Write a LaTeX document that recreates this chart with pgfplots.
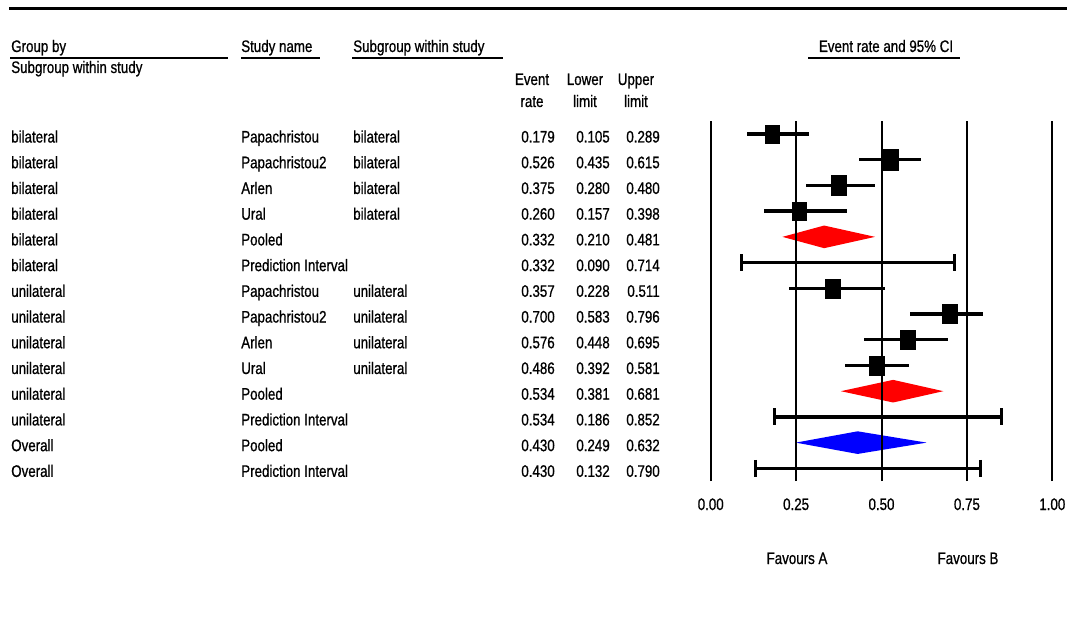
\documentclass[border=0pt]{standalone}
\usepackage{fontspec}
\setmainfont{Liberation Sans}[FakeStretch=0.8, FakeBold=0.8]
\usepackage{pgfplots}
\pgfplotsset{compat=1.18}
\usepackage{pgfplotstable}

% studies: y = 15 - row
\pgfplotstableread{
y  er    lo    hi    s
14 0.179 0.105 0.289 6.8
13 0.526 0.435 0.615 7.7
12 0.375 0.280 0.480 7.4
11 0.260 0.157 0.398 7.0
8  0.357 0.228 0.511 7.1
7  0.700 0.583 0.796 7.2
6  0.576 0.448 0.695 7.1
5  0.486 0.392 0.581 7.0
}\studies

\begin{document}
\begin{tikzpicture}[font=\fontsize{12.5}{15}\selectfont]
\begin{scope}[x=0.75pt,y=-0.75pt]
\path[use as bounding box] (0,0) rectangle (1067,624);
\draw[line width=2.6pt] (9,8.5) -- (1067,8.5);
% headers
\node[anchor=base west,inner sep=0pt] at (11,52) {Group by};
\draw[line width=1pt] (10,58) -- (228,58);
\node[anchor=base west,inner sep=0pt] at (241,52) {Study name};
\draw[line width=1pt] (241,58) -- (320,58);
\node[anchor=base west,inner sep=0pt] at (353,52) {Subgroup within study};
\draw[line width=1pt] (352,58) -- (503,58);
\node[anchor=base west,inner sep=0pt] at (11,73) {Subgroup within study};
\node[anchor=base,inner sep=0pt] at (886,52) {Event rate and 95\% CI};
\draw[line width=1pt] (808,58) -- (960,58);
\node[anchor=base,inner sep=0pt] at (532,85) {Event};
\node[anchor=base,inner sep=0pt] at (532,107) {rate};
\node[anchor=base,inner sep=0pt] at (585,85) {Lower};
\node[anchor=base,inner sep=0pt] at (585,107) {limit};
\node[anchor=base,inner sep=0pt] at (636,85) {Upper};
\node[anchor=base,inner sep=0pt] at (636,107) {limit};
% rows
\foreach \i/\a/\b/\c/\e/\l/\u in {
1/bilateral/Papachristou/bilateral/0.179/0.105/0.289,
2/bilateral/Papachristou2/bilateral/0.526/0.435/0.615,
3/bilateral/Arlen/bilateral/0.375/0.280/0.480,
4/bilateral/Ural/bilateral/0.260/0.157/0.398,
5/bilateral/Pooled//0.332/0.210/0.481,
6/bilateral/Prediction Interval//0.332/0.090/0.714,
7/unilateral/Papachristou/unilateral/0.357/0.228/0.511,
8/unilateral/Papachristou2/unilateral/0.700/0.583/0.796,
9/unilateral/Arlen/unilateral/0.576/0.448/0.695,
10/unilateral/Ural/unilateral/0.486/0.392/0.581,
11/unilateral/Pooled//0.534/0.381/0.681,
12/unilateral/Prediction Interval//0.534/0.186/0.852,
13/Overall/Pooled//0.430/0.249/0.632,
14/Overall/Prediction Interval//0.430/0.132/0.790}{
\pgfmathsetmacro{\yy}{134+(\i-1)*25.72+8.5}
\node[anchor=base west,inner sep=0pt] at (11,\yy) {\a};
\node[anchor=base west,inner sep=0pt] at (241,\yy) {\b};
\node[anchor=base west,inner sep=0pt] at (353,\yy) {\c};
\node[anchor=base east,inner sep=0pt] at (555,\yy) {\e};
\node[anchor=base east,inner sep=0pt] at (610,\yy) {\l};
\node[anchor=base east,inner sep=0pt] at (660,\yy) {\u};
}
\node[anchor=base,inner sep=0pt] at (797,564) {Favours A};
\node[anchor=base,inner sep=0pt] at (968,564) {Favours B};
\end{scope}

\begin{axis}[at={(533.03pt,-360.9pt)}, anchor=south west,
  x=256.2pt, y=19.29pt,
  xmin=0, xmax=1, ymin=0.5, ymax=14.5,
  axis line style={draw=none}, tick style={draw=none},
  ytick=\empty, xtick={0,0.25,0.5,0.75,1},
  xticklabels={0.00,0.25,0.50,0.75,1.00},
  xticklabel style={anchor=base, yshift=-21.6pt, inner sep=0pt,
    font=\fontsize{12.5}{15}\selectfont},
  clip=false]
% diamonds
\addplot[fill=red, draw=none] coordinates {(0.210,10) (0.332,10.44) (0.481,10) (0.332,9.56)} -- cycle;
\addplot[fill=red, draw=none] coordinates {(0.381,4) (0.534,4.44) (0.681,4) (0.534,3.56)} -- cycle;
\addplot[fill=blue, draw=none] coordinates {(0.249,2) (0.430,2.44) (0.632,2) (0.430,1.56)} -- cycle;
% prediction intervals
\addplot[black, line width=2.5pt, mark=|, mark size=6.4pt, mark options={line width=2.5pt}] coordinates {(0.090,9) (0.714,9)};
\addplot[black, line width=2.5pt, mark=|, mark size=6.4pt, mark options={line width=2.5pt}] coordinates {(0.186,3) (0.852,3)};
\addplot[black, line width=2.5pt, mark=|, mark size=6.4pt, mark options={line width=2.5pt}] coordinates {(0.132,1) (0.790,1)};
% studies
\addplot[scatter, only marks, mark=square*,
  scatter/use mapped color={draw=black,fill=black},
  visualization depends on={\thisrow{s}\as\msize},
  scatter/@pre marker code/.append style={/tikz/mark size=\msize pt},
  mark options={xscale=0.77},
  error bars/.cd, x dir=both, x explicit, error mark=none,
  error bar style={line width=2.5pt, black}]
  table[x=er, y=y, x error plus expr=\thisrow{hi}-\thisrow{er}, x error minus expr=\thisrow{er}-\thisrow{lo}] {\studies};
% reference lines
\pgfplotsinvokeforeach{0,0.25,0.5,0.75,1}{
\addplot[black, line width=1.5pt] coordinates {(#1,0.5) (#1,14.5)};
}
\end{axis}
\end{tikzpicture}
\end{document}
